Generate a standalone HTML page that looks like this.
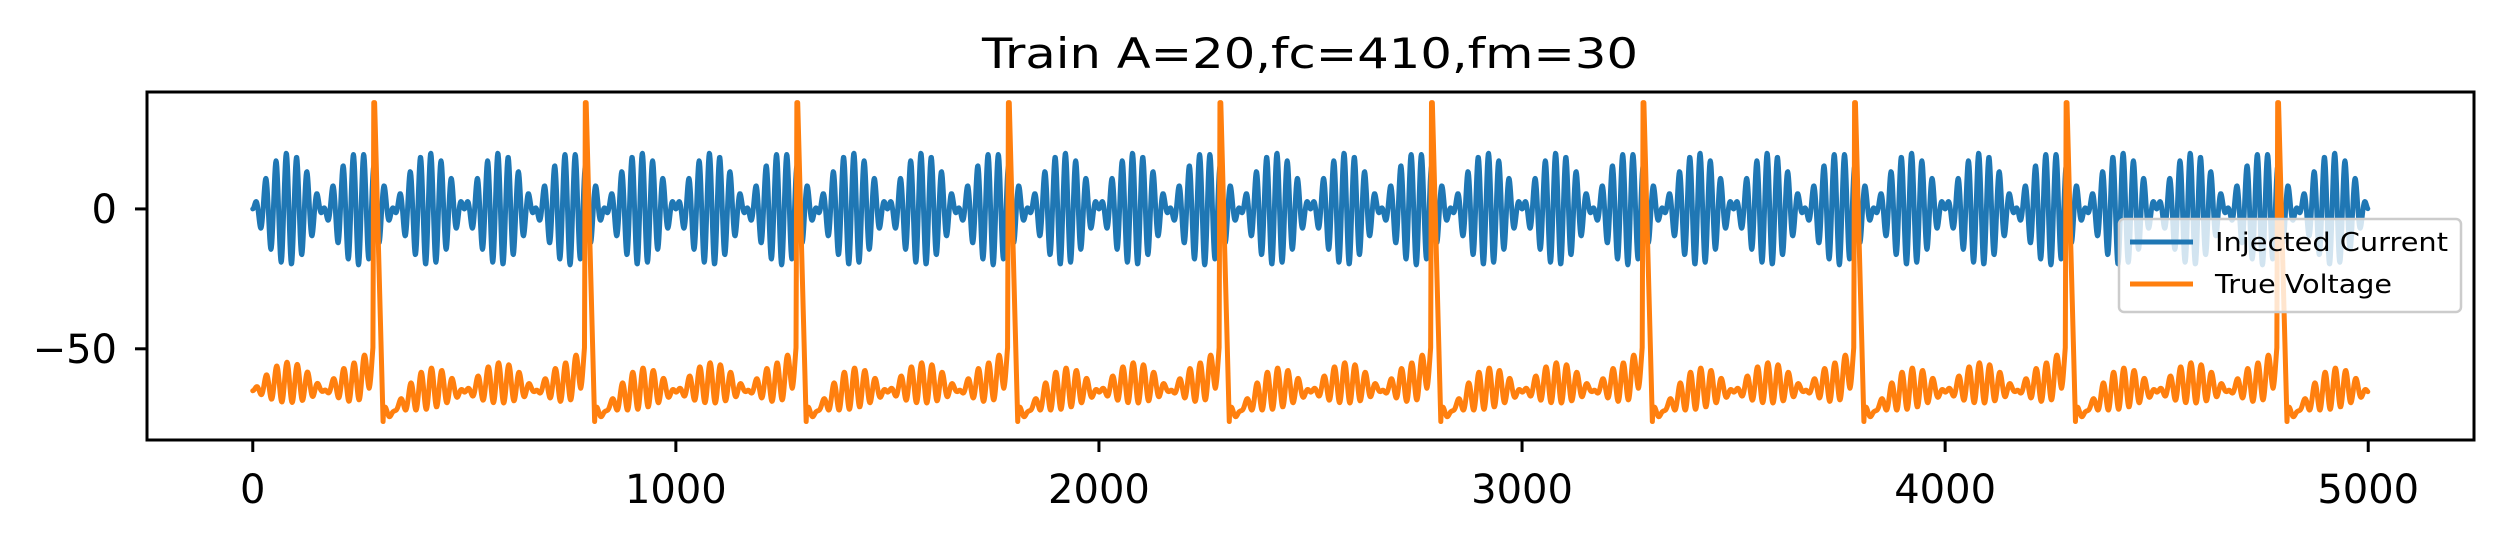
<!DOCTYPE html>
<html><head><meta charset="utf-8"><style>
html,body{margin:0;padding:0;background:#fff;}
svg{display:block;font-family:"DejaVu Sans","Liberation Sans",sans-serif;}
</style></head><body>
<svg id="chart" width="2502" height="540" viewBox="0 0 2502 540" xmlns="http://www.w3.org/2000/svg">
<rect width="2502" height="540" fill="#fff"/>
<text x="1310" y="68" font-size="42" text-anchor="middle" textLength="656" lengthAdjust="spacingAndGlyphs">Train A=20,fc=410,fm=30</text>
<defs><clipPath id="clip"><rect x="147" y="92" width="2327" height="348"/></clipPath></defs>
<g id="series" clip-path="url(#clip)"></g>
<g id="axes"></g>
<g id="legend">
  <rect x="2119" y="219" width="342" height="93" rx="5" fill="#fff" fill-opacity="0.8" stroke="#ccc" stroke-width="2.5"/>
  <line x1="2130" y1="242" x2="2193" y2="242" stroke="#1f77b4" stroke-width="5"/>
  <text x="2215" y="251" font-size="26" textLength="233" lengthAdjust="spacingAndGlyphs">Injected Current</text>
  <line x1="2130" y1="284" x2="2193" y2="284" stroke="#ff7f0e" stroke-width="5"/>
  <text x="2215" y="293" font-size="26" textLength="177" lengthAdjust="spacingAndGlyphs">True Voltage</text>
</g>
</svg>
<script>
const amplitude = [20];
const carrierFreq = [410];
const modFreq = [30];
const nSamples = [5000];
const sampleRateHz = [10000];
const spikeTimes = [285, 785, 1285, 1785, 2285, 2785, 3285, 3785, 4285, 4785];
const spikePeak = [38];
const restVoltage = [-65];
const resetVoltage = [-76];
const xTicks = [0, 1000, 2000, 3000, 4000, 5000];
const xTickLabels = ["0", "1000", "2000", "3000", "4000", "5000"];
const yTicks = [0, -50];
const yTickLabels = ["0", "\u221250"];
const xDomain = [-250, 5250];
const yDomain = [-82.6, 41.8];

// ---- scales ----
const L = 147, R = 2474, T = 92, B = 440;
const sx = v => L + (v - xDomain[0]) / (xDomain[1] - xDomain[0]) * (R - L);
const sy = v => B - (v - yDomain[0]) / (yDomain[1] - yDomain[0]) * (B - T);
const NS = "http://www.w3.org/2000/svg";

// ---- series ----
const N = nSamples[0];
const cur = [], volt = [];
for (let i = 0; i < N; i++) {
  const t = i / sampleRateHz[0];
  cur.push(amplitude[0] * Math.sin(2 * Math.PI * modFreq[0] * t) * Math.sin(2 * Math.PI * carrierFreq[0] * t));
}
let filt = 0;
for (let i = 0; i < N; i++) {
  filt += (cur[i] - filt) * 0.35;
  let last = -1e9, next = 1e9;
  for (const s of spikeTimes) { if (s <= i) last = s; else if (s < next) next = s; }
  let base = restVoltage[0];
  const since = i - last;
  if (last > -1e8) base = restVoltage[0] + (resetVoltage[0] - restVoltage[0]) * Math.exp(-Math.max(0, since - 20) / 70);
  const t = i / sampleRateHz[0];
  const env = Math.abs(Math.sin(2 * Math.PI * modFreq[0] * t));
  let v = base + 0.42 * filt + 3 * env;
  const until = next - i;
  if (until < 40) v += (40 - until) / 40 * 6;
  if (until < 10) v += (10 - until) / 10 * 5;
  if (since >= 0 && since < 24 && last > -1e8) {
    if (since <= 1) v = -52 + (spikePeak[0] + 52) * (since + 1) / 2;
    else if (since <= 3) v = spikePeak[0];
    else v = spikePeak[0] + (resetVoltage[0] - spikePeak[0]) * (since - 3) / 20;
  }
  volt.push(v);
}
function drawLine(vals, color, name) {
  let d = "";
  for (let i = 0; i < vals.length; i++) d += (i ? "L" : "M") + sx(i).toFixed(2) + "," + sy(vals[i]).toFixed(2);
  const p = document.createElementNS(NS, "path");
  p.setAttribute("d", d);
  p.setAttribute("fill", "none");
  p.setAttribute("stroke", color);
  p.setAttribute("stroke-width", "5");
  p.setAttribute("stroke-linejoin", "round");
  p.setAttribute("stroke-linecap", "round");
  
  
  document.getElementById("series").appendChild(p);
}
drawLine(cur, "#1f77b4", "injected-current-line");
drawLine(volt, "#ff7f0e", "true-voltage-line");

// ---- axes ----
const ax = document.getElementById("axes");
const frame = document.createElementNS(NS, "rect");
frame.setAttribute("x", L); frame.setAttribute("y", T);
frame.setAttribute("width", R - L); frame.setAttribute("height", B - T);
frame.setAttribute("fill", "none"); frame.setAttribute("stroke", "#000"); frame.setAttribute("stroke-width", "3");


ax.appendChild(frame);
xTicks.forEach((v, k) => {
  const x = sx(v);
  const ln = document.createElementNS(NS, "line");
  ln.setAttribute("x1", x); ln.setAttribute("x2", x); ln.setAttribute("y1", B); ln.setAttribute("y2", B + 12);
  ln.setAttribute("stroke", "#000"); ln.setAttribute("stroke-width", "3");
  
  
  ax.appendChild(ln);
  const tx = document.createElementNS(NS, "text");
  tx.setAttribute("x", x); tx.setAttribute("y", 503);
  tx.setAttribute("font-size", "40"); tx.setAttribute("text-anchor", "middle");
  tx.textContent = xTickLabels[k];
  
  
  ax.appendChild(tx);
});
yTicks.forEach((v, k) => {
  const y = sy(v);
  const ln = document.createElementNS(NS, "line");
  ln.setAttribute("x1", L - 12); ln.setAttribute("x2", L); ln.setAttribute("y1", y); ln.setAttribute("y2", y);
  ln.setAttribute("stroke", "#000"); ln.setAttribute("stroke-width", "3");
  
  
  ax.appendChild(ln);
  const tx = document.createElementNS(NS, "text");
  tx.setAttribute("x", L - 30); tx.setAttribute("y", y + 14);
  tx.setAttribute("font-size", "40"); tx.setAttribute("text-anchor", "end");
  tx.textContent = yTickLabels[k];
  
  
  ax.appendChild(tx);
});
</script>
</body></html>
